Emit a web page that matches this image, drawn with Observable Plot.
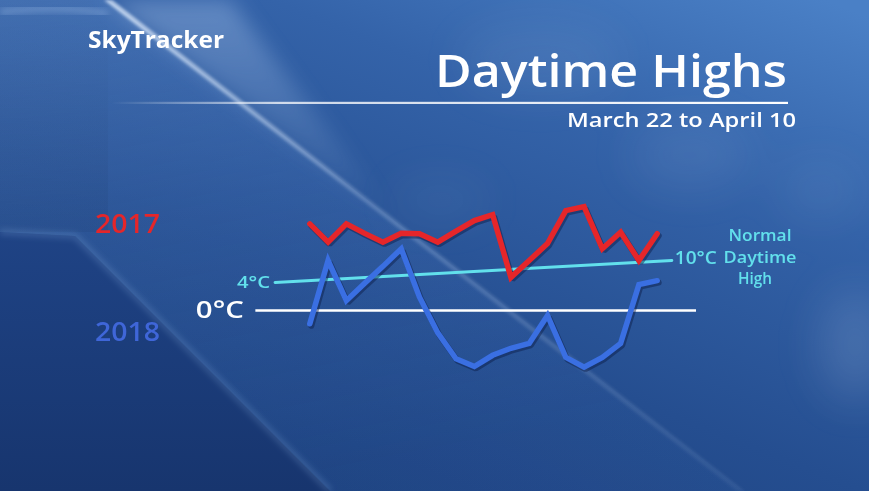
<!DOCTYPE html>
<html><head><meta charset="utf-8">
<script src="https://cdn.jsdelivr.net/npm/d3@7"></script>
<script src="https://cdn.jsdelivr.net/npm/@observablehq/plot@0.6"></script>
<style>
html,body{margin:0;padding:0;background:#1d3f7f;}
#wrap{position:relative;width:869px;height:491px;overflow:hidden;font-family:"Open Sans",sans-serif;}
#wrap > svg{position:absolute;left:0;top:0;}
</style></head><body>
<div id="wrap">
<svg id="bg" width="869" height="491" viewBox="0 0 869 491">
  <defs>
    <linearGradient id="base" x1="0.95" y1="0" x2="0.25" y2="1">
      <stop offset="0" stop-color="#4a80c6"/>
      <stop offset="0.3" stop-color="#3463a9"/>
      <stop offset="0.65" stop-color="#254e90"/>
      <stop offset="1" stop-color="#1b3f7c"/>
    </linearGradient>
    <linearGradient id="wedge" x1="0" y1="0" x2="0.3" y2="1">
      <stop offset="0" stop-color="#7aa6e0" stop-opacity="0.28"/>
      <stop offset="0.45" stop-color="#5d8ad0" stop-opacity="0.16"/>
      <stop offset="1" stop-color="#4a78c0" stop-opacity="0.06"/>
    </linearGradient>
    <linearGradient id="lower" x1="0" y1="0" x2="0" y2="1">
      <stop offset="0" stop-color="#1f4385"/>
      <stop offset="1" stop-color="#17356e"/>
    </linearGradient>
    <linearGradient id="topleft" x1="0" y1="0" x2="0" y2="1">
      <stop offset="0" stop-color="#21477f" stop-opacity="0.0"/>
      <stop offset="1" stop-color="#1a3c74" stop-opacity="0.35"/>
    </linearGradient>
    <linearGradient id="band" x1="0" y1="0" x2="0" y2="1">
      <stop offset="0" stop-color="#bcd6f8" stop-opacity="0.35"/>
      <stop offset="1" stop-color="#bcd6f8" stop-opacity="0"/>
    </linearGradient>
    <linearGradient id="edge" x1="0" y1="0" x2="0" y2="1">
      <stop offset="0" stop-color="#e4f0ff" stop-opacity="0.75"/>
      <stop offset="0.4" stop-color="#e4f0ff" stop-opacity="0.22"/>
      <stop offset="1" stop-color="#e4f0ff" stop-opacity="0.06"/>
    </linearGradient>
    <linearGradient id="ruleFade" x1="0" y1="0" x2="1" y2="0">
      <stop offset="0" stop-color="#ffffff" stop-opacity="0"/>
      <stop offset="0.25" stop-color="#ffffff" stop-opacity="0.75"/>
      <stop offset="1" stop-color="#ffffff" stop-opacity="1"/>
    </linearGradient>
    <filter id="b2"><feGaussianBlur stdDeviation="1.5"/></filter>
    <filter id="b3"><feGaussianBlur stdDeviation="3"/></filter>
    <filter id="b10"><feGaussianBlur stdDeviation="10"/></filter>
    <filter id="b25"><feGaussianBlur stdDeviation="22"/></filter>
  </defs>
  <rect width="869" height="491" fill="url(#base)"/>
  <g filter="url(#b25)" fill="#dfeaff">
    <ellipse cx="540" cy="60" rx="80" ry="35" opacity="0.07"/>
    <ellipse cx="690" cy="155" rx="60" ry="35" opacity="0.08"/>
    <ellipse cx="440" cy="200" rx="50" ry="20" opacity="0.06"/>
    <ellipse cx="855" cy="345" rx="35" ry="55" opacity="0.14"/>
    <ellipse cx="820" cy="190" rx="40" ry="30" opacity="0.06"/>
  </g>
  <rect width="108" height="232" fill="url(#topleft)"/>
  <polygon points="0,0 108,0 745,491 330,491 75,236 0,232" fill="url(#wedge)"/>
  <polygon points="108,0 230,0 400,225" fill="url(#band)" filter="url(#b10)"/>
  <polygon points="0,232 75,236 330,491 0,491" fill="url(#lower)"/>
  <polyline points="0,232 75,236 330,491" fill="none" stroke="#9cc0ee" stroke-opacity="0.3" stroke-width="4" filter="url(#b3)"/>
  <polygon points="104,0 112,0 745,491 737,491" fill="url(#edge)" filter="url(#b2)"/>
  <path d="M0,12 Q60,4 108,14" fill="none" stroke="#a8c6ee" stroke-opacity="0.3" stroke-width="8" filter="url(#b3)"/>
  <rect x="111" y="101.8" width="677" height="2.2" fill="url(#ruleFade)"/>
</svg>
</div>
<script>
// ---- data ----
const days = ["Mar 22","Mar 23","Mar 24","Mar 25","Mar 26","Mar 27","Mar 28","Mar 29","Mar 30","Mar 31",
              "Apr 1","Apr 2","Apr 3","Apr 4","Apr 5","Apr 6","Apr 7","Apr 8","Apr 9","Apr 10"];
const highs2017 = [20.0, 15.0, 20.0, 17.4, 15.0, 17.4, 17.3, 15.0, 18.0, 20.9,
                   22.5, 5.4, 10.0, 14.6, 23.6, 24.7, 13.2, 17.7, 10.0, 17.3];
const highs2018 = [-1.9, 10.0, 1.4, 3.9, 8.4, 13.2, 1.9, -3.2, -6.9, -8.0,
                   -6.4, -5.4, -4.7, -0.7, -6.7, -8.1, -6.7, -4.7, 3.7, 4.5];
const normalTemps = [4, 10];          // normal daytime high, start and end
const normalDays = [-1.9, 19.8];      // day offsets of the normal line ends
const zeroDays = [-2.95, 21.15];      // extent of the 0°C reference line
const seriesNames = ["2017", "2018"];
const titleText = "Daytime Highs";
const subtitleText = "March 22 to April 10";
const brandText = "SkyTracker";
const normalLabel = ["Normal", "Daytime", "High"];

// ---- build tables ----
const rows2017 = days.map((d, i) => ({day: i, temp: highs2017[i]}));
const rows2018 = days.map((d, i) => ({day: i, temp: highs2018[i]}));
const normalRows = normalTemps.map((t, i) => ({day: normalDays[i], temp: t}));

const RED = "#e5262a", BLUE = "#3a6fe2", CYAN = "#62e0ec", LEG_BLUE = "#3f66d8";

const chart = Plot.plot({
  width: 869, height: 491,
  margin: 0,
  style: {background: "transparent", fontFamily: "'Open Sans', sans-serif", overflow: "visible"},
  x: {domain: [0, 19], range: [309.3, 656.7], axis: null},
  y: {type: "linear", domain: [0, 4, 10], range: [310, 282, 260], axis: null},
  marks: [
    Plot.ruleY([0], {x1: zeroDays[0], x2: zeroDays[1], stroke: "#ffffff", strokeWidth: 2.4}),
    Plot.line(normalRows, {x: "day", y: "temp", stroke: CYAN, strokeWidth: 3}),
    Plot.text([normalRows[0]], {x: "day", y: "temp", text: d => `${d.temp}°C`, textAnchor: "end", dx: -5, fill: CYAN, fontSize: 17, fontWeight: 600, className: "lab4"}),
    Plot.text([normalRows[1]], {x: "day", y: "temp", text: d => `${d.temp}°C`, textAnchor: "start", dx: 3, dy: -2.5, fill: CYAN, fontSize: 18, fontWeight: 600, className: "lab10"}),
    Plot.text([0], {x: zeroDays[0], y: d => d, text: d => `${d}°C`, textAnchor: "end", dx: -12, fill: "#ffffff", fontSize: 24, fontWeight: 600, className: "lab0"}),
    Plot.line(rows2018, {x: "day", y: "temp", stroke: "#0a1a44", strokeOpacity: 0.45, strokeWidth: 6, dx: 1.5, dy: 2, strokeLinejoin: "miter"}),
    Plot.line(rows2017, {x: "day", y: "temp", stroke: "#0a1a44", strokeOpacity: 0.45, strokeWidth: 6, dx: 1.5, dy: 2, strokeLinejoin: "miter"}),
    Plot.line(rows2018, {x: "day", y: "temp", stroke: BLUE, strokeWidth: 5.5, strokeLinejoin: "miter", strokeMiterlimit: 3}),
    Plot.line(rows2017, {x: "day", y: "temp", stroke: RED, strokeWidth: 5.5, strokeLinejoin: "miter", strokeMiterlimit: 3})
  ]
});
// widen the reference-line labels to the broad lettering of the original
[["lab0", 48], ["lab4", 33], ["lab10", 42]].forEach(([c, w]) => {
  chart.querySelectorAll(`.${c} text`).forEach(t => {
    t.setAttribute("textLength", w); t.setAttribute("lengthAdjust", "spacingAndGlyphs");
  });
});
document.getElementById("wrap").appendChild(chart);

// ---- text overlay ----
const NS = "http://www.w3.org/2000/svg";
const ov = document.createElementNS(NS, "svg");
ov.setAttribute("width", 869); ov.setAttribute("height", 491);
ov.style.fontFamily = "'Open Sans', sans-serif";
document.getElementById("wrap").appendChild(ov);
function addText(t, x, y, w, size, weight, fill, anchor) {
  const el = document.createElementNS(NS, "text");
  el.textContent = t;
  el.setAttribute("x", x); el.setAttribute("y", y);
  el.setAttribute("font-size", size); el.setAttribute("font-weight", weight);
  el.setAttribute("fill", fill);
  if (anchor) el.setAttribute("text-anchor", anchor);
  if (w) { el.setAttribute("textLength", w); el.setAttribute("lengthAdjust", "spacingAndGlyphs"); }
  ov.appendChild(el);
  return el;
}
addText(brandText, 88, 48, 136, 23, 700, "#ffffff");
addText(titleText, 435, 87, 352, 45, 600, "#ffffff");
addText(subtitleText, 567, 127, 229, 20, 600, "#ffffff");
addText(seriesNames[0], 95, 233, 65, 27, 600, RED);
addText(seriesNames[1], 95, 341, 65, 27, 600, LEG_BLUE);
const nl = document.createElementNS(NS, "text");
nl.setAttribute("font-size", 16); nl.setAttribute("font-weight", 600);
nl.setAttribute("fill", CYAN); nl.setAttribute("text-anchor", "middle");
[[760, 240.5, 63], [760, 262.5, 73], [755, 283.5, 34]].forEach(([x, y, w], i) => {
  const ts = document.createElementNS(NS, "tspan");
  ts.setAttribute("x", x); ts.setAttribute("y", y);
  ts.setAttribute("textLength", w); ts.setAttribute("lengthAdjust", "spacingAndGlyphs");
  ts.textContent = normalLabel[i];
  nl.appendChild(ts);
});
ov.appendChild(nl);
</script>
</body></html>
